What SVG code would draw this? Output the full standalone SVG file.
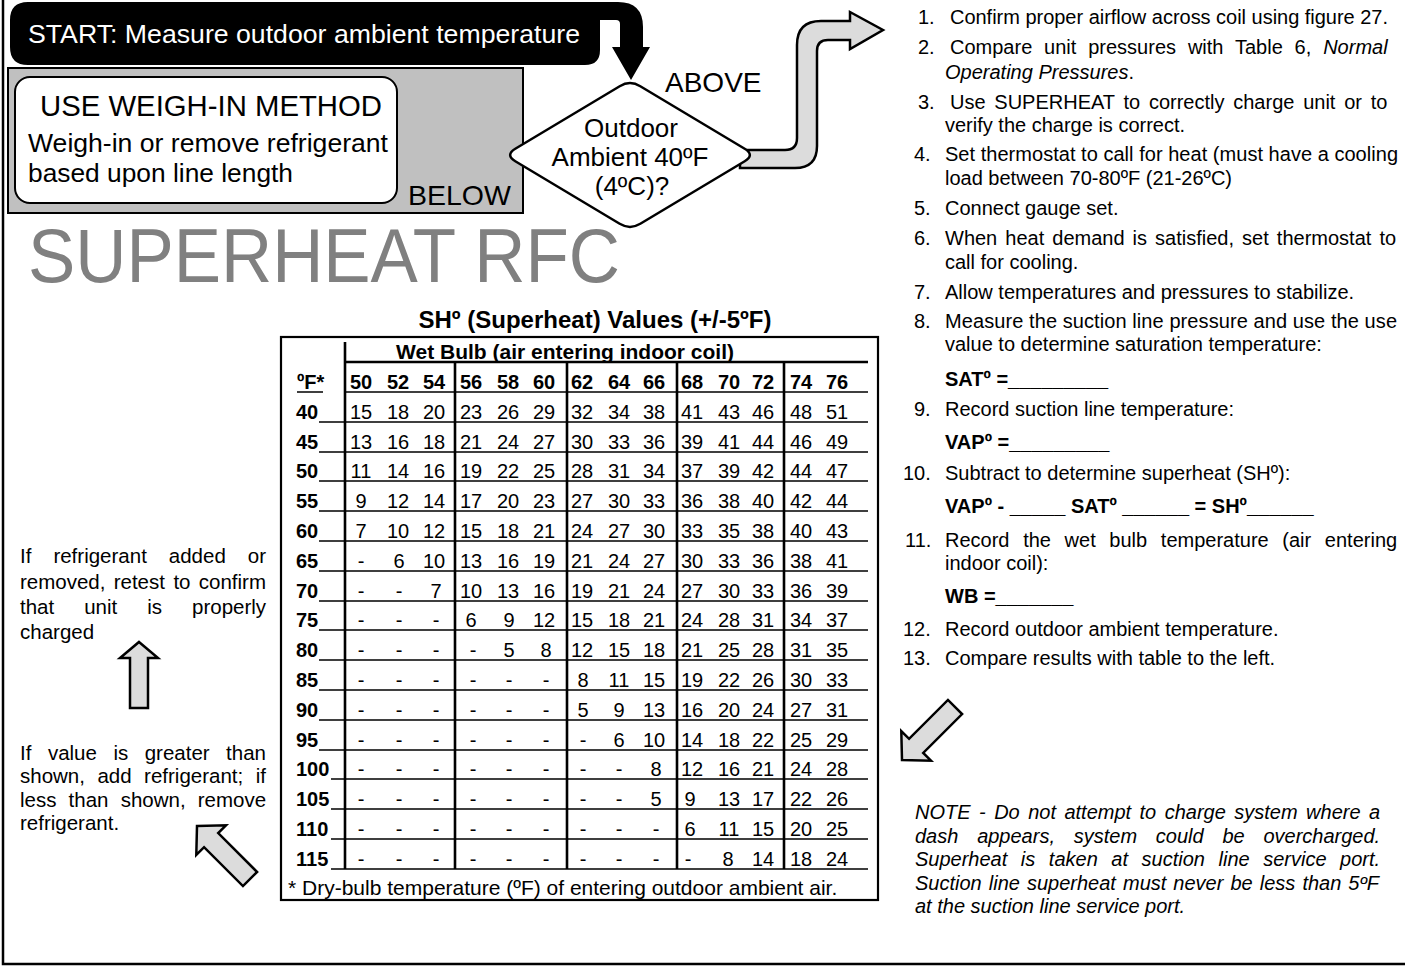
<svg xmlns="http://www.w3.org/2000/svg" width="1405" height="966" viewBox="0 0 1405 966">
<style>
text{font-family:"Liberation Sans",Arial,Helvetica,sans-serif;fill:#000}
.b{font-weight:bold}
.i{font-style:italic}
.num{font-size:20px;text-anchor:middle}
.hd{font-size:20px;font-weight:bold;text-anchor:middle}
.lb{font-size:20px;font-weight:bold}
.lst{font-size:20px}
.side{font-size:20.5px}
.note{font-size:20px;font-style:italic}
.rl{stroke:#000;stroke-width:1.6;fill:none}
.vl{stroke:#000;stroke-width:2.6;fill:none}
.garrow{fill:#dcdcdc;stroke:#000;stroke-width:2.5;stroke-linejoin:miter}
</style>
<defs>
<path id="arr" d="M0,0 L21,20 L10,20 L10,75 L-10,75 L-10,20 L-21,20 Z"/>
</defs>
<rect width="1405" height="966" fill="#fff"/>
<g id="frame"><path d="M3,0 V964 H1405" fill="none" stroke="#000" stroke-width="2.5"/></g>

<g id="connectors">
<path class="garrow" d="M740,150 H785 Q797,150 797,138 V45 Q797,21 821,21 H850 V12 L883,30 L850,49 V40 H828 Q817,40 817,51 V146 Q817,168 795,168 H740 Z"/>
<path d="M397,155 L430,133 V143 H515 V165 H430 V177 Z" fill="#fff" stroke="#000" stroke-width="2.5"/>
<path d="M28,2 H618 Q643,2 643,27 V47 H650 L631,80 L612,47 H620 V24 Q620,20 616,20 H600 V50 Q600,65 585,65 H28 Q10,65 10,47 V20 Q10,2 28,2 Z" fill="#000"/>
<path class="garrow" d="M139,642 L158,658 L148,658 L148,708 L130,708 L130,658 L120,658 Z"/>
<use href="#arr" class="garrow" transform="translate(197,826) rotate(-45)"/>
<use href="#arr" class="garrow" transform="translate(902,760) rotate(-135)"/>
</g>

<g id="start"><text x="28" y="43" font-size="26" fill="#fff" style="fill:#fff" textLength="552" lengthAdjust="spacingAndGlyphs">START: Measure outdoor ambient temperature</text></g>

<g id="weigh">
<rect x="8" y="68" width="515" height="145" fill="#c0c0c0" stroke="#000" stroke-width="2"/>
<rect x="15" y="77" width="382" height="126" rx="15" fill="#fff" stroke="#000" stroke-width="2"/>
<text x="40" y="116" font-size="29" textLength="342" lengthAdjust="spacingAndGlyphs">USE WEIGH-IN METHOD</text>
<text x="28" y="152" font-size="26.5" textLength="360" lengthAdjust="spacingAndGlyphs">Weigh-in or remove refrigerant</text>
<text x="28" y="182" font-size="26.5" textLength="265" lengthAdjust="spacingAndGlyphs">based upon line length</text>
<text x="408" y="205" font-size="28.5">BELOW</text>
</g>

<g id="decision">
<path d="M619.7,86.2 Q630,80 640.3,86.2 L744.7,148.8 Q755,155 744.7,161.2 L640.3,223.8 Q630,230 619.7,223.8 L515.3,161.2 Q505,155 515.3,148.8 Z" fill="#fff" stroke="#000" stroke-width="2.5"/>
<text x="631" y="137" font-size="26" text-anchor="middle">Outdoor</text>
<text x="630" y="166" font-size="26" text-anchor="middle">Ambient 40ºF</text>
<text x="632" y="195" font-size="26" text-anchor="middle">(4ºC)?</text>
<text x="665" y="92" font-size="28">ABOVE</text>
</g>

<g id="title"><text x="28" y="282" font-size="76" style="fill:#808080" textLength="592" lengthAdjust="spacingAndGlyphs">SUPERHEAT RFC</text></g>

<g id="table">
<text x="595" y="328" font-size="24" class="b" text-anchor="middle">SHº (Superheat) Values (+/-5ºF)</text>
<rect x="281" y="337" width="597" height="563" fill="#fff" stroke="#000" stroke-width="2.2"/>
<text x="565" y="359" font-size="21" class="b" text-anchor="middle">Wet Bulb (air entering indoor coil)</text>
<path class="vl" d="M345,362 H868 M345,342 V869 M455,362 V869 M567,362 V869 M677,362 V869 M784,362 V869"/>
<path class="rl" d="M297,392 H323 M345,392 H868 M319,422 H868 M319,452 H868 M319,481 H868 M319,511 H868 M319,541 H868 M319,571 H868 M319,601 H868 M319,630 H868 M319,660 H868 M319,690 H868 M319,720 H868 M319,750 H868 M331,779 H868 M331,809 H868 M331,839 H868 M331,869 H868"/>
<text class="lb" x="297" y="389">ºF*</text>
<text class="hd" y="389"><tspan x="361">50</tspan><tspan x="398">52</tspan><tspan x="434">54</tspan><tspan x="471">56</tspan><tspan x="508">58</tspan><tspan x="544">60</tspan><tspan x="582">62</tspan><tspan x="619">64</tspan><tspan x="654">66</tspan><tspan x="692">68</tspan><tspan x="729">70</tspan><tspan x="763">72</tspan><tspan x="801">74</tspan><tspan x="837">76</tspan></text>
<g class="lb">
<text x="296" y="419">40</text><text x="296" y="449">45</text><text x="296" y="478">50</text><text x="296" y="508">55</text><text x="296" y="538">60</text><text x="296" y="568">65</text><text x="296" y="598">70</text><text x="296" y="627">75</text><text x="296" y="657">80</text><text x="296" y="687">85</text><text x="296" y="717">90</text><text x="296" y="747">95</text><text x="296" y="776">100</text><text x="296" y="806">105</text><text x="296" y="836">110</text><text x="296" y="866">115</text>
</g>
<text class="num" y="419"><tspan x="361">15</tspan><tspan x="398">18</tspan><tspan x="434">20</tspan><tspan x="471">23</tspan><tspan x="508">26</tspan><tspan x="544">29</tspan><tspan x="582">32</tspan><tspan x="619">34</tspan><tspan x="654">38</tspan><tspan x="692">41</tspan><tspan x="729">43</tspan><tspan x="763">46</tspan><tspan x="801">48</tspan><tspan x="837">51</tspan></text>
<text class="num" y="449"><tspan x="361">13</tspan><tspan x="398">16</tspan><tspan x="434">18</tspan><tspan x="471">21</tspan><tspan x="508">24</tspan><tspan x="544">27</tspan><tspan x="582">30</tspan><tspan x="619">33</tspan><tspan x="654">36</tspan><tspan x="692">39</tspan><tspan x="729">41</tspan><tspan x="763">44</tspan><tspan x="801">46</tspan><tspan x="837">49</tspan></text>
<text class="num" y="478"><tspan x="361">11</tspan><tspan x="398">14</tspan><tspan x="434">16</tspan><tspan x="471">19</tspan><tspan x="508">22</tspan><tspan x="544">25</tspan><tspan x="582">28</tspan><tspan x="619">31</tspan><tspan x="654">34</tspan><tspan x="692">37</tspan><tspan x="729">39</tspan><tspan x="763">42</tspan><tspan x="801">44</tspan><tspan x="837">47</tspan></text>
<text class="num" y="508"><tspan x="361">9</tspan><tspan x="398">12</tspan><tspan x="434">14</tspan><tspan x="471">17</tspan><tspan x="508">20</tspan><tspan x="544">23</tspan><tspan x="582">27</tspan><tspan x="619">30</tspan><tspan x="654">33</tspan><tspan x="692">36</tspan><tspan x="729">38</tspan><tspan x="763">40</tspan><tspan x="801">42</tspan><tspan x="837">44</tspan></text>
<text class="num" y="538"><tspan x="361">7</tspan><tspan x="398">10</tspan><tspan x="434">12</tspan><tspan x="471">15</tspan><tspan x="508">18</tspan><tspan x="544">21</tspan><tspan x="582">24</tspan><tspan x="619">27</tspan><tspan x="654">30</tspan><tspan x="692">33</tspan><tspan x="729">35</tspan><tspan x="763">38</tspan><tspan x="801">40</tspan><tspan x="837">43</tspan></text>
<text class="num" y="568"><tspan x="361">-</tspan><tspan x="399">6</tspan><tspan x="434">10</tspan><tspan x="471">13</tspan><tspan x="508">16</tspan><tspan x="544">19</tspan><tspan x="582">21</tspan><tspan x="619">24</tspan><tspan x="654">27</tspan><tspan x="692">30</tspan><tspan x="729">33</tspan><tspan x="763">36</tspan><tspan x="801">38</tspan><tspan x="837">41</tspan></text>
<text class="num" y="598"><tspan x="361">-</tspan><tspan x="399">-</tspan><tspan x="436">7</tspan><tspan x="471">10</tspan><tspan x="508">13</tspan><tspan x="544">16</tspan><tspan x="582">19</tspan><tspan x="619">21</tspan><tspan x="654">24</tspan><tspan x="692">27</tspan><tspan x="729">30</tspan><tspan x="763">33</tspan><tspan x="801">36</tspan><tspan x="837">39</tspan></text>
<text class="num" y="627"><tspan x="361">-</tspan><tspan x="399">-</tspan><tspan x="436">-</tspan><tspan x="471">6</tspan><tspan x="509">9</tspan><tspan x="544">12</tspan><tspan x="582">15</tspan><tspan x="619">18</tspan><tspan x="654">21</tspan><tspan x="692">24</tspan><tspan x="729">28</tspan><tspan x="763">31</tspan><tspan x="801">34</tspan><tspan x="837">37</tspan></text>
<text class="num" y="657"><tspan x="361">-</tspan><tspan x="399">-</tspan><tspan x="436">-</tspan><tspan x="473">-</tspan><tspan x="509">5</tspan><tspan x="546">8</tspan><tspan x="582">12</tspan><tspan x="619">15</tspan><tspan x="654">18</tspan><tspan x="692">21</tspan><tspan x="729">25</tspan><tspan x="763">28</tspan><tspan x="801">31</tspan><tspan x="837">35</tspan></text>
<text class="num" y="687"><tspan x="361">-</tspan><tspan x="399">-</tspan><tspan x="436">-</tspan><tspan x="473">-</tspan><tspan x="509">-</tspan><tspan x="546">-</tspan><tspan x="583">8</tspan><tspan x="619">11</tspan><tspan x="654">15</tspan><tspan x="692">19</tspan><tspan x="729">22</tspan><tspan x="763">26</tspan><tspan x="801">30</tspan><tspan x="837">33</tspan></text>
<text class="num" y="717"><tspan x="361">-</tspan><tspan x="399">-</tspan><tspan x="436">-</tspan><tspan x="473">-</tspan><tspan x="509">-</tspan><tspan x="546">-</tspan><tspan x="583">5</tspan><tspan x="619">9</tspan><tspan x="654">13</tspan><tspan x="692">16</tspan><tspan x="729">20</tspan><tspan x="763">24</tspan><tspan x="801">27</tspan><tspan x="837">31</tspan></text>
<text class="num" y="747"><tspan x="361">-</tspan><tspan x="399">-</tspan><tspan x="436">-</tspan><tspan x="473">-</tspan><tspan x="509">-</tspan><tspan x="546">-</tspan><tspan x="583">-</tspan><tspan x="619">6</tspan><tspan x="654">10</tspan><tspan x="692">14</tspan><tspan x="729">18</tspan><tspan x="763">22</tspan><tspan x="801">25</tspan><tspan x="837">29</tspan></text>
<text class="num" y="776"><tspan x="361">-</tspan><tspan x="399">-</tspan><tspan x="436">-</tspan><tspan x="473">-</tspan><tspan x="509">-</tspan><tspan x="546">-</tspan><tspan x="583">-</tspan><tspan x="619">-</tspan><tspan x="656">8</tspan><tspan x="692">12</tspan><tspan x="729">16</tspan><tspan x="763">21</tspan><tspan x="801">24</tspan><tspan x="837">28</tspan></text>
<text class="num" y="806"><tspan x="361">-</tspan><tspan x="399">-</tspan><tspan x="436">-</tspan><tspan x="473">-</tspan><tspan x="509">-</tspan><tspan x="546">-</tspan><tspan x="583">-</tspan><tspan x="619">-</tspan><tspan x="656">5</tspan><tspan x="690">9</tspan><tspan x="729">13</tspan><tspan x="763">17</tspan><tspan x="801">22</tspan><tspan x="837">26</tspan></text>
<text class="num" y="836"><tspan x="361">-</tspan><tspan x="399">-</tspan><tspan x="436">-</tspan><tspan x="473">-</tspan><tspan x="509">-</tspan><tspan x="546">-</tspan><tspan x="583">-</tspan><tspan x="619">-</tspan><tspan x="656">-</tspan><tspan x="690">6</tspan><tspan x="729">11</tspan><tspan x="763">15</tspan><tspan x="801">20</tspan><tspan x="837">25</tspan></text>
<text class="num" y="866"><tspan x="361">-</tspan><tspan x="399">-</tspan><tspan x="436">-</tspan><tspan x="473">-</tspan><tspan x="509">-</tspan><tspan x="546">-</tspan><tspan x="583">-</tspan><tspan x="619">-</tspan><tspan x="656">-</tspan><tspan x="688">-</tspan><tspan x="728">8</tspan><tspan x="763">14</tspan><tspan x="801">18</tspan><tspan x="837">24</tspan></text>
<text x="288" y="895" font-size="21">* Dry-bulb temperature (ºF) of entering outdoor ambient air.</text>
</g>

<g id="retest" class="side">
<text class="side" y="563"><tspan x="20">If</tspan><tspan x="53.4">refrigerant</tspan><tspan x="168.8">added</tspan><tspan x="247.8">or</tspan></text>
<text class="side" y="589"><tspan x="20">removed,</tspan><tspan x="113.7">retest</tspan><tspan x="173.4">to</tspan><tspan x="198.8">confirm</tspan></text>
<text class="side" y="614"><tspan x="20">that</tspan><tspan x="84.2">unit</tspan><tspan x="147.2">is</tspan><tspan x="192">properly</tspan></text>
<text class="side" x="20" y="639">charged</text>
</g>

<g id="adjust" class="side">
<text class="side" y="760"><tspan x="20">If</tspan><tspan x="47.9">value</tspan><tspan x="113.4">is</tspan><tspan x="144.7">greater</tspan><tspan x="226.1">than</tspan></text>
<text class="side" y="783"><tspan x="20">shown,</tspan><tspan x="97.4">add</tspan><tspan x="144.1">refrigerant;</tspan><tspan x="255.7">if</tspan></text>
<text class="side" y="807"><tspan x="20">less</tspan><tspan x="68.6">than</tspan><tspan x="120.7">shown,</tspan><tspan x="197.8">remove</tspan></text>
<text class="side" x="20" y="830">refrigerant.</text>
</g>

<g id="steps" class="lst">
<text class="lst" x="918" y="24">1.</text><text class="lst" x="950" y="24" textLength="438" lengthAdjust="spacing">Confirm proper airflow across coil using figure 27.</text>
<text class="lst" x="918" y="54">2.</text><text class="lst" x="950" y="54" word-spacing="6.3">Compare unit pressures with Table 6, <tspan class="i">Normal</tspan></text>
<text class="lst" x="945" y="79"><tspan class="i">Operating Pressures</tspan>.</text>
<text class="lst" x="918" y="109">3.</text><text class="lst" x="950" y="109" word-spacing="3.2">Use SUPERHEAT to correctly charge unit or to</text>
<text class="lst" x="945" y="132">verify the charge is correct.</text>
<text class="lst" x="914" y="161">4.</text><text class="lst" x="945" y="161" textLength="453" lengthAdjust="spacing">Set thermostat to call for heat (must have a cooling</text>
<text class="lst" x="945" y="185">load between 70-80ºF (21-26ºC)</text>
<text class="lst" x="914" y="215">5.</text><text class="lst" x="945" y="215">Connect gauge set.</text>
<text class="lst" x="914" y="245">6.</text><text class="lst" x="945" y="245" word-spacing="2.5">When heat demand is satisfied, set thermostat to</text>
<text class="lst" x="945" y="269">call for cooling.</text>
<text class="lst" x="914" y="299">7.</text><text class="lst" x="945" y="299">Allow temperatures and pressures to stabilize.</text>
<text class="lst" x="914" y="328">8.</text><text class="lst" x="945" y="328" textLength="452" lengthAdjust="spacing">Measure the suction line pressure and use the use</text>
<text class="lst" x="945" y="351">value to determine saturation temperature:</text>
<text class="lst b" x="945" y="386">SATº =_________</text>
<text class="lst" x="914" y="416">9.</text><text class="lst" x="945" y="416">Record suction line temperature:</text>
<text class="lst b" x="945" y="449">VAPº =_________</text>
<text class="lst" x="903" y="480">10.</text><text class="lst" x="945" y="480">Subtract to determine superheat (SHº):</text>
<text class="lst b" x="945" y="513">VAPº - _____ SATº ______ = SHº______</text>
<text class="lst" x="905" y="547">11.</text><text class="lst" x="945" y="547" word-spacing="8.1">Record the wet bulb temperature (air entering</text>
<text class="lst" x="945" y="570">indoor coil):</text>
<text class="lst b" x="945" y="603">WB =_______</text>
<text class="lst" x="903" y="636">12.</text><text class="lst" x="945" y="636">Record outdoor ambient temperature.</text>
<text class="lst" x="903" y="665">13.</text><text class="lst" x="945" y="665">Compare results with table to the left.</text>
</g>

<g id="note" class="note">
<text class="note" x="915" y="819" word-spacing="2.9">NOTE - Do not attempt to charge system where a</text>
<text class="note" x="915" y="843" word-spacing="13.2">dash appears, system could be overcharged.</text>
<text class="note" x="915" y="866" word-spacing="8">Superheat is taken at suction line service port.</text>
<text class="note" x="915" y="890" word-spacing="1.5">Suction line superheat must never be less than 5ºF</text>
<text class="note" x="915" y="913">at the suction line service port.</text>
</g>
</svg>
